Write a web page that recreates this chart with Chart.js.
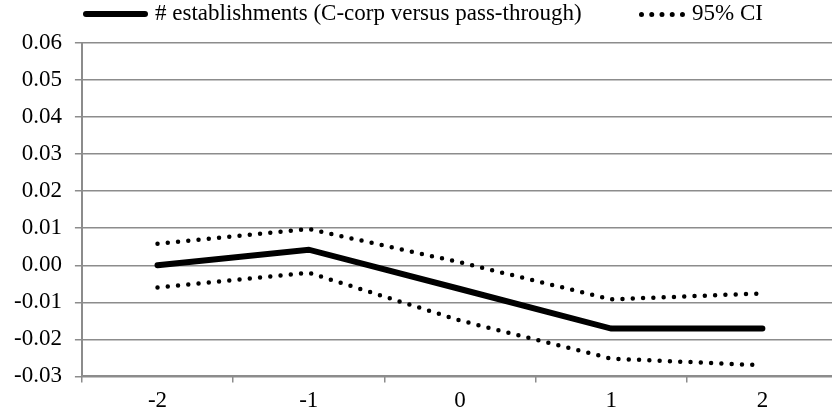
<!DOCTYPE html>
<html lang="en">
<head>
  <meta charset="UTF-8">
  <title># establishments (C-corp versus pass-through)</title>
  <script src="https://cdn.jsdelivr.net/npm/chart.js"></script>
  <style>
    body {
      margin: 0;
      padding: 0;
      background: white;
      overflow: hidden;
      font-family: "Liberation Serif", serif;
    }
    .wrap {
      position: relative;
      width: 832px;
      height: 417px;
      overflow: hidden;
    }
    #legend {
      position: absolute;
      top: 0;
      left: 0;
      width: 832px;
      height: 30px;
      font-size: 23px;
      color: #000;
    }
    #legend span { position: absolute; white-space: nowrap; }
    .thick {
      left: 83px; top: 11px; width: 65px; height: 6px;
      background: #000; border-radius: 3px;
    }
    .dots {
      left: 639px; top: 12px; width: 46px; height: 0;
      border-top: 5px dotted #000;
    }
  </style>
</head>
<body>
  <div class="wrap">
    <canvas id="chart" width="838" height="420"></canvas>
    <div id="legend">
      <span class="thick"></span>
      <span style="left:155px; top:0px;"># establishments (C-corp versus pass-through)</span>
      <span class="dots"></span>
      <span style="left:692px; top:0px;">95% CI</span>
    </div>
  </div>

  <script>
    // event time
    const periods = ['-2', '-1', '0', '1', '2'];
    // point estimate and 95% confidence bounds
    const establishments = [0.000, 0.0042, -0.0064, -0.0171, -0.0171];
    const ciUpper = [0.0058, 0.0098, 0.0008, -0.0092, -0.0076];
    const ciLower = [-0.0060, -0.0020, -0.0149, -0.0252, -0.0270];

    const gris = '#8c8c8c';
    const dotted = {
      borderColor: '#000',
      borderWidth: 4.5,
      borderDash: [0, 10.3],
      borderCapStyle: 'round',
      pointRadius: 0,
      fill: false,
      tension: 0
    };

    new Chart(document.getElementById('chart'), {
      type: 'line',
      data: {
        labels: periods,
        datasets: [
          Object.assign({ label: '95% CI', data: ciUpper }, dotted),
          Object.assign({ label: '95% CI (lower)', data: ciLower }, dotted),
          {
            label: '# establishments (C-corp versus pass-through)',
            data: establishments,
            borderColor: '#000',
            borderWidth: 6,
            borderCapStyle: 'round',
            borderJoinStyle: 'miter',
            pointRadius: 0,
            fill: false,
            tension: 0
          }
        ]
      },
      options: {
        responsive: false,
        animation: false,
        layout: { padding: { top: 43, bottom: 0, left: 1, right: 0 } },
        plugins: {
          legend: { display: false },
          tooltip: { enabled: false }
        },
        scales: {
          x: {
            offset: true,
            grid: {
              offset: true,
              drawOnChartArea: false,
              drawTicks: true,
              tickLength: 6,
              color: gris,
              lineWidth: 1.5
            },
            border: { color: gris, width: 2 },
            ticks: {
              color: '#000',
              padding: 5,
              font: { family: 'Liberation Serif', size: 23 }
            }
          },
          y: {
            min: -0.03,
            max: 0.06,
            grid: {
              color: gris,
              lineWidth: 1.5,
              tickLength: 7
            },
            border: { color: gris, width: 2 },
            ticks: {
              stepSize: 0.01,
              color: '#000',
              padding: 13,
              font: { family: 'Liberation Serif', size: 23 },
              callback: v => v.toFixed(2)
            }
          }
        }
      }
    });
  </script>
</body>
</html>
